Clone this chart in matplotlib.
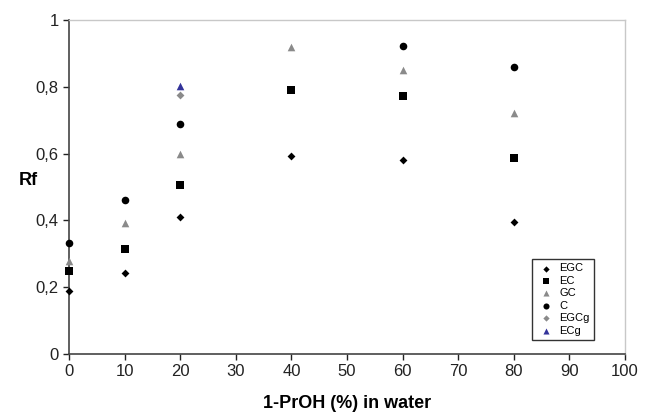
import matplotlib.pyplot as plt
from matplotlib.ticker import FuncFormatter

plt.rcParams['font.family'] = ['Liberation Sans', 'DejaVu Sans']

# 1-PrOH (%) in water
x_all = [0, 10, 20, 40, 60, 80]

egc = [0.19, 0.242, 0.41, 0.593, 0.58, 0.394]
ec = [0.249, 0.314, 0.505, 0.79, 0.772, 0.587]
gc = [0.278, 0.393, 0.60, 0.92, 0.85, 0.722]
c = [0.333, 0.461, 0.688, None, 0.922, 0.86]
x_egcg = [20]
egcg = [0.775]
x_ecg = [20]
ecg = [0.803]

fig = plt.figure(figsize=(6.45, 4.17), dpi=100)
ax = fig.add_axes([0.107, 0.151, 0.862, 0.801])

def pts(xs, ys):
    pairs = [(a, b) for a, b in zip(xs, ys) if b is not None]
    return [p[0] for p in pairs], [p[1] for p in pairs]

kw = dict(clip_on=False, linewidths=0)
ax.scatter(*pts(x_all, egc), marker='D', s=16, color='black', label='EGC', zorder=3, **kw)
ax.scatter(*pts(x_all, ec), marker='s', s=30, color='black', label='EC', zorder=3, **kw)
ax.scatter(*pts(x_all, gc), marker='^', s=30, color='#8a8a8a', label='GC', zorder=3, **kw)
ax.scatter(*pts(x_all, c), marker='o', s=30, color='black', label='C', zorder=3, **kw)
ax.scatter(x_egcg, egcg, marker='D', s=16, color='#8a8a8a', label='EGCg', zorder=3, **kw)
ax.scatter(x_ecg, ecg, marker='^', s=30, color='#33339a', label='ECg', zorder=4, **kw)

ax.set_xlim(0, 100)
ax.set_ylim(0, 1)
ax.set_xticks(range(0, 101, 10))
ax.set_yticks([0, 0.2, 0.4, 0.6, 0.8, 1.0])
ax.yaxis.set_major_formatter(FuncFormatter(
    lambda v, p: '0' if v == 0 else ('1' if v == 1 else f'{v:.1f}'.replace('.', ','))))
ax.tick_params(direction='out', length=4, width=1, labelsize=12, colors='#222222')

for s in ['left', 'bottom']:
    ax.spines[s].set_color('#444444')
    ax.spines[s].set_linewidth(1.2)
for s in ['right', 'top']:
    ax.spines[s].set_color('#c8c8c8')
    ax.spines[s].set_linewidth(1.0)

ax.set_xlabel('1-PrOH (%) in water', fontsize=13, fontweight='bold', labelpad=11)
ax.set_ylabel('Rf', fontsize=13, fontweight='bold', rotation=0, va='center', ha='center')
ax.yaxis.set_label_coords(-0.074, 0.52)

leg = ax.legend(loc='lower right', bbox_to_anchor=(0.955, 0.025), fontsize=8,
                frameon=True, fancybox=False, edgecolor='black',
                handletextpad=0.3, borderpad=0.4, labelspacing=0.22,
                handlelength=1.8, markerscale=0.8)
leg.get_frame().set_linewidth(1.0)

fig.savefig('out.png', dpi=100)
